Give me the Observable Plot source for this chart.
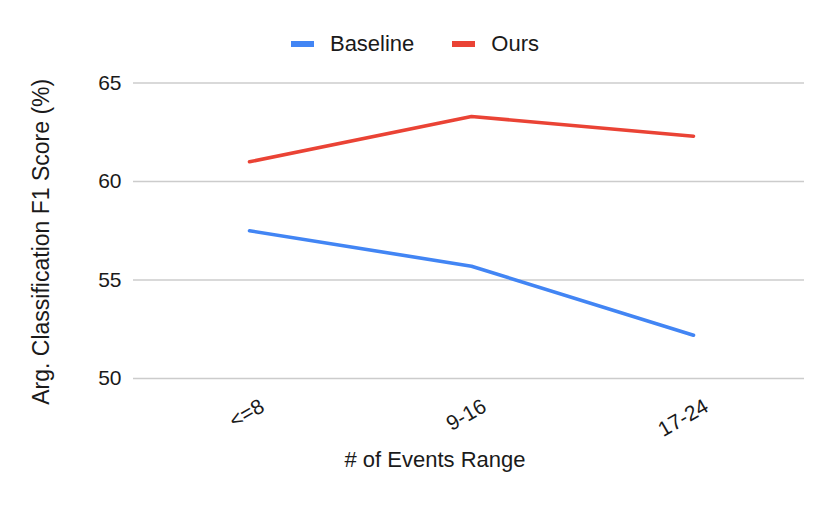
<!DOCTYPE html>
<html>
<head>
<meta charset="utf-8">
<script src="https://cdn.jsdelivr.net/npm/d3@7"></script>
<script src="https://cdn.jsdelivr.net/npm/@observablehq/plot@0.6"></script>
<style>
  html, body { margin: 0; padding: 0; background: #fff; }
  body { width: 830px; height: 514px; overflow: hidden; position: relative; font-family: Arial, "Liberation Sans", sans-serif; }
  #legend { position: absolute; left: 0; top: 0; width: 830px; height: 60px; box-sizing: border-box; padding-top: 28px; display: flex; justify-content: center; align-items: center; font-size: 22px; color: #1a1a1a; line-height: 24px; z-index: 2; }
  #legend .item { display: flex; align-items: center; margin: 0 19px; }
  #legend .sw { width: 23px; height: 6px; margin-right: 16px; }
  #chart { position: absolute; left: 0; top: 0; }
</style>
</head>
<body>
<div id="chart"></div>
<div id="legend"></div>
<script>
const categories = ["<=8", "9-16", "17-24"];
const baseline = [57.5, 55.7, 52.2];
const ours = [61.0, 63.3, 62.3];
const yTicks = [50, 55, 60, 65];
const seriesNames = ["Baseline", "Ours"];
const seriesColors = ["#4285F4", "#EA4335"];
const xTitle = "# of Events Range";
const yTitle = "Arg. Classification F1 Score (%)";

const rows = [];
categories.forEach((c, i) => {
  rows.push({cat: c, series: "Baseline", value: baseline[i]});
  rows.push({cat: c, series: "Ours", value: ours[i]});
});

const legend = document.getElementById("legend");
seriesNames.forEach((s, i) => {
  const item = document.createElement("div");
  item.className = "item";
  const sw = document.createElement("span");
  sw.className = "sw";
  sw.style.background = seriesColors[i];
  const t = document.createElement("span");
  t.textContent = s;
  item.appendChild(sw);
  item.appendChild(t);
  legend.appendChild(item);
});

const chart = Plot.plot({
  width: 830,
  height: 514,
  marginLeft: 137,
  marginRight: 26,
  marginTop: 82.5,
  marginBottom: 136,
  style: {fontFamily: "Arial, 'Liberation Sans', sans-serif", fontSize: "21px", color: "#1a1a1a", background: "#fff"},
  x: {type: "point", domain: categories, padding: 0.5, axis: null},
  y: {domain: [50, 65], axis: null},
  color: {domain: seriesNames, range: seriesColors},
  marks: [
    Plot.ruleY(yTicks, {stroke: "#cccccc", strokeWidth: 1.6, insetLeft: -4}),
    Plot.axisY(yTicks, {tickSize: 0, tickPadding: 16, fontSize: 21, fill: "#1a1a1a", label: null}),
    Plot.line(rows, {x: "cat", y: "value", z: "series", stroke: "series", strokeWidth: 3.6, strokeLinejoin: "round"}),
    Plot.text(categories, {x: d => d, frameAnchor: "bottom", dx: 13, dy: 26, rotate: -30, textAnchor: "end", lineAnchor: "middle", fontSize: 21, fill: "#1a1a1a"}),
    Plot.text([xTitle], {text: d => d, frameAnchor: "bottom", textAnchor: "middle", dx: -36, dy: 88, fontSize: 22, fill: "#1a1a1a"}),
    Plot.text([yTitle], {text: d => d, frameAnchor: "left", textAnchor: "middle", lineAnchor: "middle", rotate: -90, dx: -96, dy: 11, fontSize: 23, fill: "#1a1a1a"})
  ]
});
document.getElementById("chart").appendChild(chart);
</script>
</body>
</html>
